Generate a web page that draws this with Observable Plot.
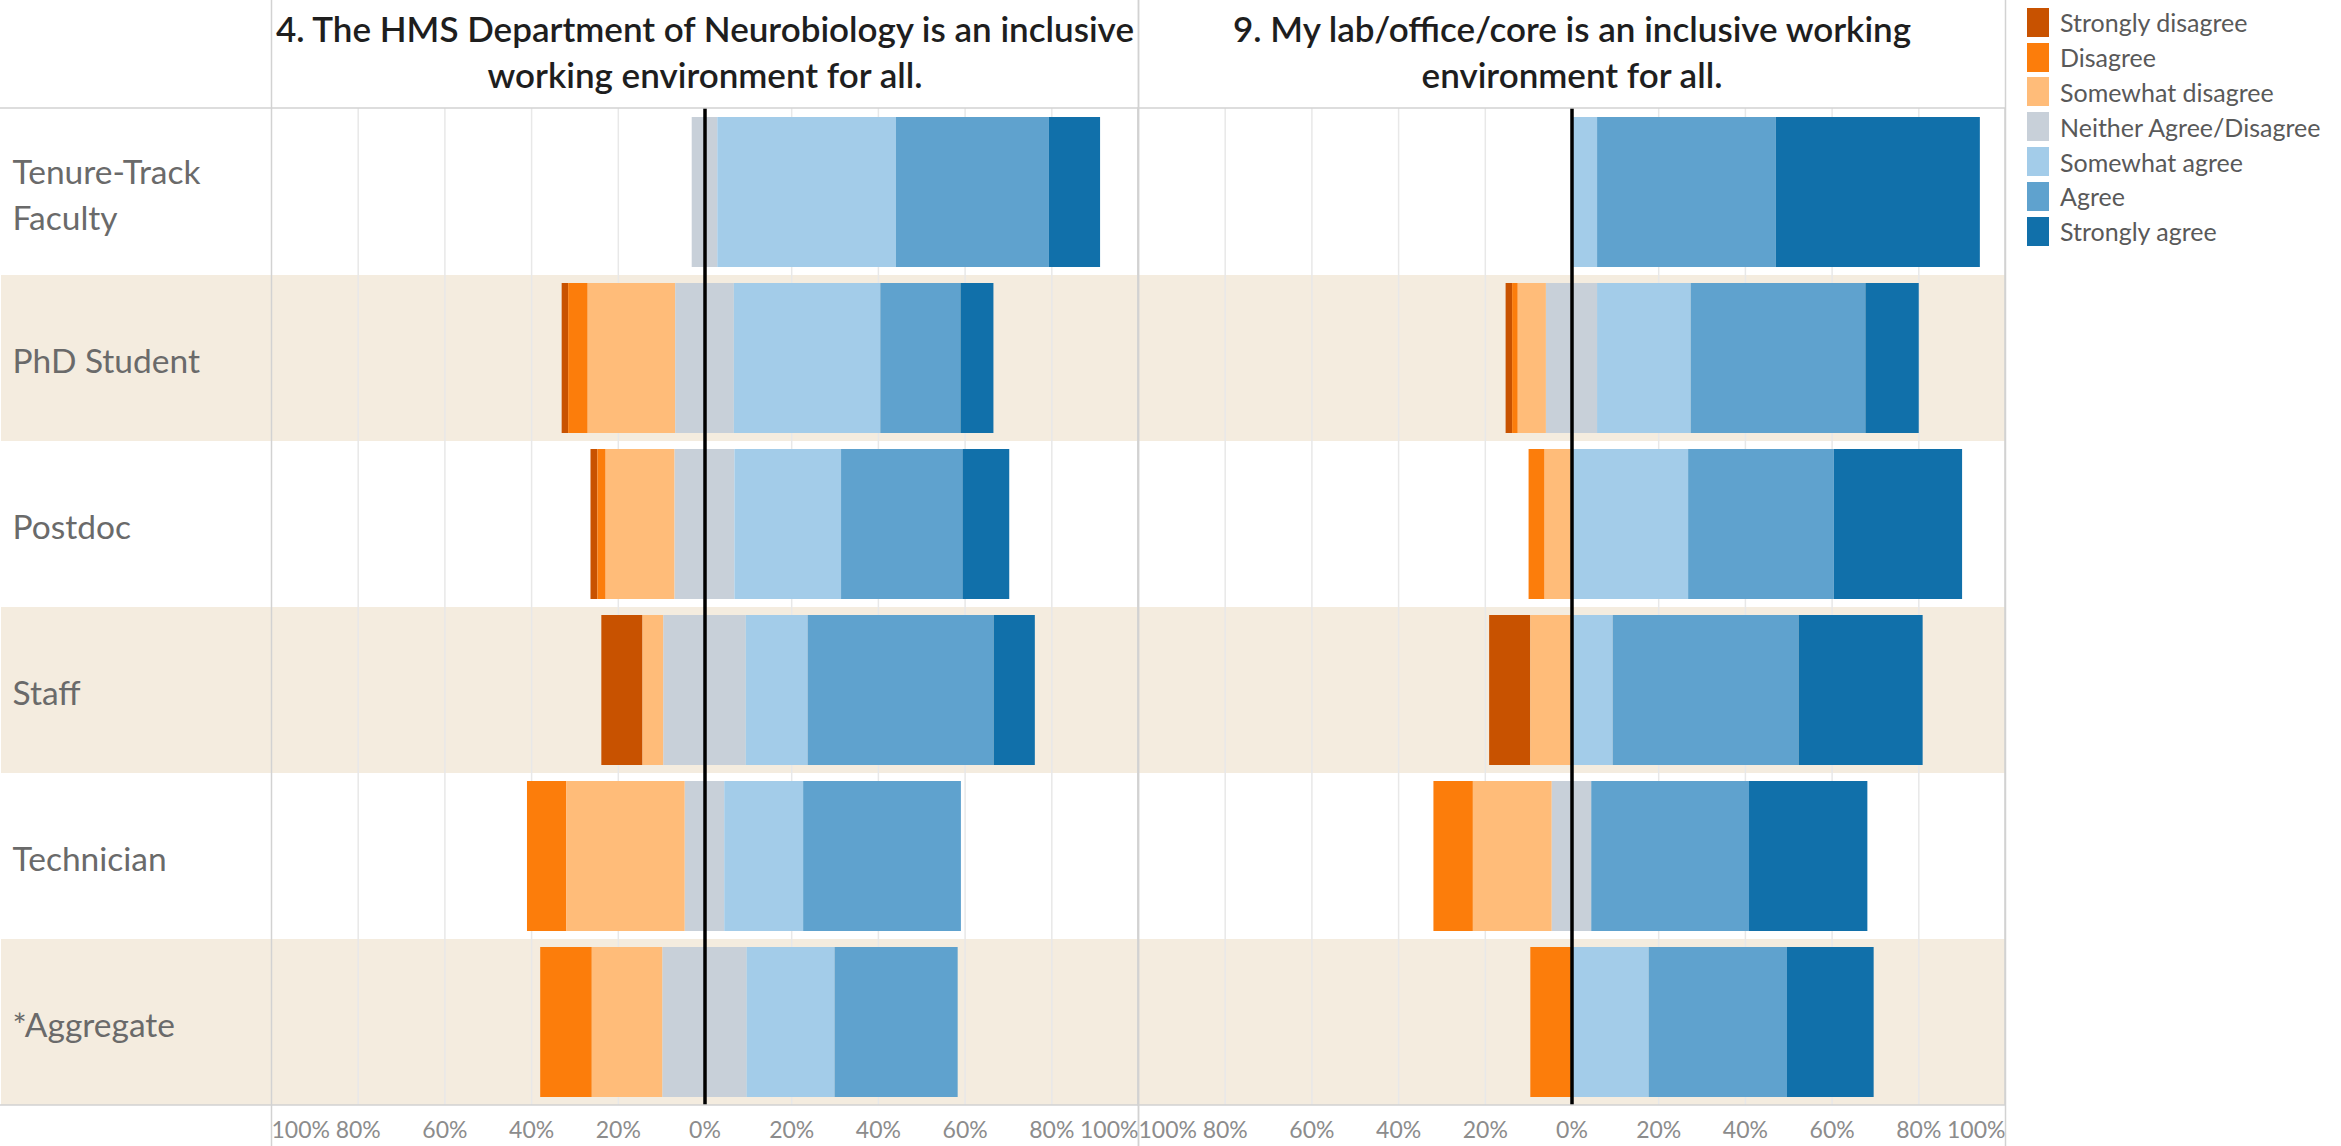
<!DOCTYPE html>
<html>
<head>
<meta charset="utf-8">
<script src="https://cdn.jsdelivr.net/npm/d3@7"></script>
<script src="https://cdn.jsdelivr.net/npm/@observablehq/plot@0.6"></script>
<style>
  html, body { margin: 0; padding: 0; background: #fff; overflow: hidden; }
  #wrap { display: flex; align-items: flex-start; font-family: Lato, sans-serif; }
  #legend { margin-left: 17px; margin-top: 5px; }
  .item { display: flex; align-items: center; height: 34.8px; }
  .sw { width: 22px; height: 29px; margin-right: 11px; flex: none; }
  .lab { font-size: 25px; color: #595959; white-space: nowrap; }
</style>
</head>
<body>
<div id="wrap"><div id="chart"></div><div id="legend"></div></div>
<script>
// ---- data ----
const questions = ["Q4", "Q9"];
const titles = [
  "4. The HMS Department of Neurobiology is an inclusive\nworking environment for all.",
  "9. My lab/office/core is an inclusive working\nenvironment for all."
];
const groups = ["Tenure-Track\nFaculty", "PhD Student", "Postdoc", "Staff", "Technician", "*Aggregate"];
const categories = ["Strongly disagree", "Disagree", "Somewhat disagree", "Neither Agree/Disagree",
                    "Somewhat agree", "Agree", "Strongly agree"];
const colors = ["#c85200", "#fc7d0b", "#ffbc79", "#c8d0d9", "#a3cce9", "#5fa2ce", "#1170aa"];
// percent of respondents, in category order above, one list per group
const q4Values = [
  [0, 0, 0, 5.9, 41.2, 35.3, 11.8],
  [1.5, 4.5, 20.2, 13.5, 33.8, 18.5, 7.6],
  [1.6, 1.9, 15.9, 13.8, 24.6, 28.0, 10.8],
  [9.5, 0, 4.8, 19.0, 14.3, 42.9, 9.5],
  [0, 9.1, 27.3, 9.1, 18.2, 36.4, 0],
  [0, 11.9, 16.3, 19.4, 20.3, 28.4, 0]
];
const q9Values = [
  [0, 0, 0, 0, 5.9, 41.2, 47.1],
  [1.5, 1.3, 6.5, 11.8, 21.6, 40.3, 12.3],
  [0, 3.7, 6.2, 0, 26.9, 33.6, 29.6],
  [9.5, 0, 9.5, 0, 9.5, 42.9, 28.6],
  [0, 9.1, 18.2, 9.1, 0, 36.4, 27.3],
  [0, 9.5, 0, 0, 17.8, 31.9, 20.0]
];
const tickValues = [-100, -80, -60, -40, -20, 0, 20, 40, 60, 80, 100];

// ---- build diverging table ----
const rows = [];
[q4Values, q9Values].forEach((vals, qi) => {
  vals.forEach((arr, gi) => {
    arr.forEach((v, ci) => {
      if (!v) return;
      const base = {question: questions[qi], group: groups[gi], category: categories[ci]};
      if (ci < 3) rows.push({...base, value: -v});
      else if (ci === 3) { rows.push({...base, value: -v / 2}); rows.push({...base, value: v / 2}); }
      else rows.push({...base, value: v});
    });
  });
});
const stackOrder = [categories[3], categories[2], categories[1], categories[0],
                    categories[4], categories[5], categories[6]];
const shaded = groups.filter((g, i) => i % 2 === 1);

const mL = 270, mT = 108, mB = 41, mR = 5;
const bandColor = "#f4ecdf";
const lineColor = "#d2d2d2";
const tickFill = "#8c8c8c";

const chart = Plot.plot({
  width: 2010,
  height: 1146,
  marginLeft: mL, marginRight: mR, marginTop: mT, marginBottom: mB,
  style: {fontFamily: "Lato, sans-serif", background: "white"},
  fx: {domain: questions, padding: 0, axis: null},
  x: {domain: [-100, 100], axis: null},
  y: {domain: groups, padding: 0, axis: null},
  color: {domain: categories, range: colors},
  marks: [
    // row banding
    Plot.barX(shaded, {fx: () => questions[0], y: d => d, x1: -100, x2: 100, fill: bandColor, insetLeft: -mL}),
    Plot.barX(shaded, {fx: () => questions[1], y: d => d, x1: -100, x2: 100, fill: bandColor}),
    // gridlines
    Plot.ruleX(tickValues.filter(t => t !== 0 && Math.abs(t) < 100), {stroke: "#e8e8e8", strokeWidth: 1.5}),
    // diverging stacked bars
    Plot.barX(rows, {fx: "question", y: "group", x: "value", fill: "category", order: stackOrder,
                     insetTop: 8, insetBottom: 8}),
    // zero line
    Plot.ruleX([0], {stroke: "#000", strokeWidth: 3.5}),
    // pane frames
    Plot.barX([questions[0]], {fx: d => d, x1: -100, x2: 100, fill: "none", stroke: lineColor, strokeWidth: 1.5, insetLeft: -mL - 2}),
    Plot.barX([questions[1]], {fx: d => d, x1: -100, x2: 100, fill: "none", stroke: lineColor, strokeWidth: 1.5}),
    Plot.ruleX([-100, 100], {stroke: lineColor, strokeWidth: 1.5, insetTop: -mT, insetBottom: -mB}),
    // titles
    Plot.text(questions, {fx: d => d, text: (d, i) => titles[i], frameAnchor: "top", lineAnchor: "middle",
                          dy: -58, fontSize: 35, fontWeight: 600, fill: "#1e1e1e", lineHeight: 1.29}),
    // row labels
    Plot.text(groups, {fx: () => questions[0], y: d => d, text: d => d, frameAnchor: "left",
                       textAnchor: "start", dx: -(mL - 11), fontSize: 33.5, fill: "#6a6a6a", lineHeight: 1.38}),
    // x tick labels
    Plot.text(tickValues.filter(t => Math.abs(t) < 100), {x: d => d, text: d => Math.abs(d) + "%",
              frameAnchor: "bottom", lineAnchor: "middle", dy: 25, fontSize: 23, fill: tickFill}),
    Plot.text(tickValues.filter(t => t === -100), {x: d => d, text: d => Math.abs(d) + "%",
              frameAnchor: "bottom", lineAnchor: "middle", dy: 25, fontSize: 23, fill: tickFill, textAnchor: "start"}),
    Plot.text(tickValues.filter(t => t === 100), {x: d => d, text: d => Math.abs(d) + "%",
              frameAnchor: "bottom", lineAnchor: "middle", dy: 25, fontSize: 23, fill: tickFill, textAnchor: "end"})
  ]
});
document.getElementById("chart").appendChild(chart);

// legend
const legend = document.getElementById("legend");
categories.forEach((c, i) => {
  const item = document.createElement("div");
  item.className = "item";
  const sw = document.createElement("div");
  sw.className = "sw";
  sw.style.background = colors[i];
  const lab = document.createElement("div");
  lab.className = "lab";
  lab.textContent = c;
  item.appendChild(sw);
  item.appendChild(lab);
  legend.appendChild(item);
});
</script>
</body>
</html>
